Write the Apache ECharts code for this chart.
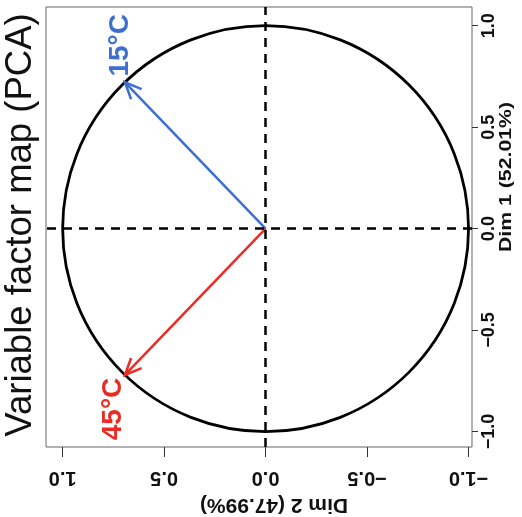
<!DOCTYPE html>
<html>
<head>
<meta charset="utf-8">
<script src="https://cdn.jsdelivr.net/npm/echarts@6/dist/echarts.min.js"></script>
<style>
  html, body { margin: 0; padding: 0; background: #fff; }
  #chart { width: 522px; height: 517px; }
</style>
</head>
<body>
<div id="chart"></div>
<script>
// Variable factor map of a two-variable PCA (correlation circle)
const variables = ['15°C', '45°C'];
const dim1 = [0.721, -0.721];   // coordinates on Dim 1 (52.01%)
const dim2 = [0.693, 0.693];    // coordinates on Dim 2 (47.99%)
const varColors = ['#3d6fd1', '#ec2b25'];
const tickValues = [-1, -0.5, 0, 0.5, 1];
const circleRadius = [1];

const FONT = '"Liberation Sans", Arial, sans-serif';
const fmt = v => (v < 0 ? '\u2212' : '') + Math.abs(v).toFixed(1);

const chart = echarts.init(document.getElementById('chart'));

chart.setOption({
  animation: false,
  backgroundColor: '#fff',
  grid: {
    left: 46, right: 50, top: 7, bottom: 70,
    show: true, borderColor: '#666', borderWidth: 1, backgroundColor: 'transparent'
  },
  xAxis: {
    type: 'value',
    inverse: true,
    min: -1.017, max: 1.082,
    axisLine: { show: false, onZero: false },
    splitLine: { show: false },
    axisTick: { show: true, length: 10, customValues: tickValues, lineStyle: { color: '#333', width: 1 } },
    axisLabel: {
      customValues: tickValues, rotate: 180, margin: 21,
      formatter: fmt, fontFamily: FONT, fontWeight: 'bold', fontSize: 20, color: '#111'
    }
  },
  yAxis: {
    type: 'value',
    position: 'right',
    min: -1.076, max: 1.092,
    axisLine: { show: false, onZero: false },
    splitLine: { show: false },
    axisTick: { show: true, length: 6, customValues: tickValues, lineStyle: { color: '#333', width: 1 } },
    axisLabel: {
      customValues: tickValues, rotate: 90, margin: 8,
      formatter: fmt, fontFamily: FONT, fontWeight: 'bold', fontSize: 18, color: '#111'
    }
  },
  graphic: [
    {
      type: 'text', x: 21, y: 225, rotation: Math.PI / 2,
      style: { text: 'Variable factor map (PCA)', font: '36.5px ' + FONT, fill: '#111', align: 'center', verticalAlign: 'middle' }
    },
    {
      type: 'text', x: 274, y: 505, rotation: Math.PI,
      style: { text: 'Dim 2 (47.99%)', font: 'bold 21px ' + FONT, fill: '#111', align: 'center', verticalAlign: 'middle' }
    },
    {
      type: 'text', x: 506, y: 177, rotation: Math.PI / 2, scaleX: 1.25,
      style: { text: 'Dim 1 (52.01%)', font: 'bold 17px ' + FONT, fill: '#111', align: 'center', verticalAlign: 'middle' }
    }
  ],
  series: [
    {
      // unit correlation circle plus the dashed zero lines
      type: 'custom',
      silent: true,
      data: circleRadius.map(r => [0, 0, r]),
      renderItem: function (params, api) {
        const c = api.coord([api.value(0), api.value(1)]);
        const e = api.coord([api.value(2), api.value(1)]);
        return {
          type: 'circle',
          shape: { cx: c[0], cy: c[1], r: Math.abs(e[0] - c[0]) },
          style: { fill: null, stroke: '#000', lineWidth: 2.8 }
        };
      },
      markLine: {
        silent: true,
        symbol: ['none', 'none'],
        label: { show: false },
        lineStyle: { color: '#000', width: 2.5, type: [9, 7] },
        data: [{ xAxis: 0 }, { yAxis: 0 }]
      }
    },
    {
      // variable arrows with their labels
      type: 'custom',
      silent: true,
      data: variables.map((v, i) => [dim2[i], dim1[i]]),
      renderItem: function (params, api) {
        const i = params.dataIndex;
        const o = api.coord([0, 0]);
        const t = api.coord([api.value(0), api.value(1)]);
        const ang = Math.atan2(t[1] - o[1], t[0] - o[0]);
        const L = 18, a = Math.PI / 7.5;
        const p1 = [t[0] - L * Math.cos(ang - a), t[1] - L * Math.sin(ang - a)];
        const p2 = [t[0] - L * Math.cos(ang + a), t[1] - L * Math.sin(ang + a)];
        const color = varColors[i];
        const up = api.value(1) > 0;
        return {
          type: 'group',
          children: [
            { type: 'line', shape: { x1: o[0], y1: o[1], x2: t[0], y2: t[1] }, style: { stroke: color, lineWidth: 2.5 } },
            { type: 'polyline', shape: { points: [p1, t, p2] }, style: { stroke: color, lineWidth: 2.5, fill: null } },
            {
              type: 'text', x: t[0] + (up ? -5 : -12), y: t[1] + (up ? -37 : 34), rotation: Math.PI / 2,
              style: { text: variables[i], fill: color, font: 'bold 28px ' + FONT, align: 'center', verticalAlign: 'middle' }
            }
          ]
        };
      }
    }
  ]
});
</script>
</body>
</html>
